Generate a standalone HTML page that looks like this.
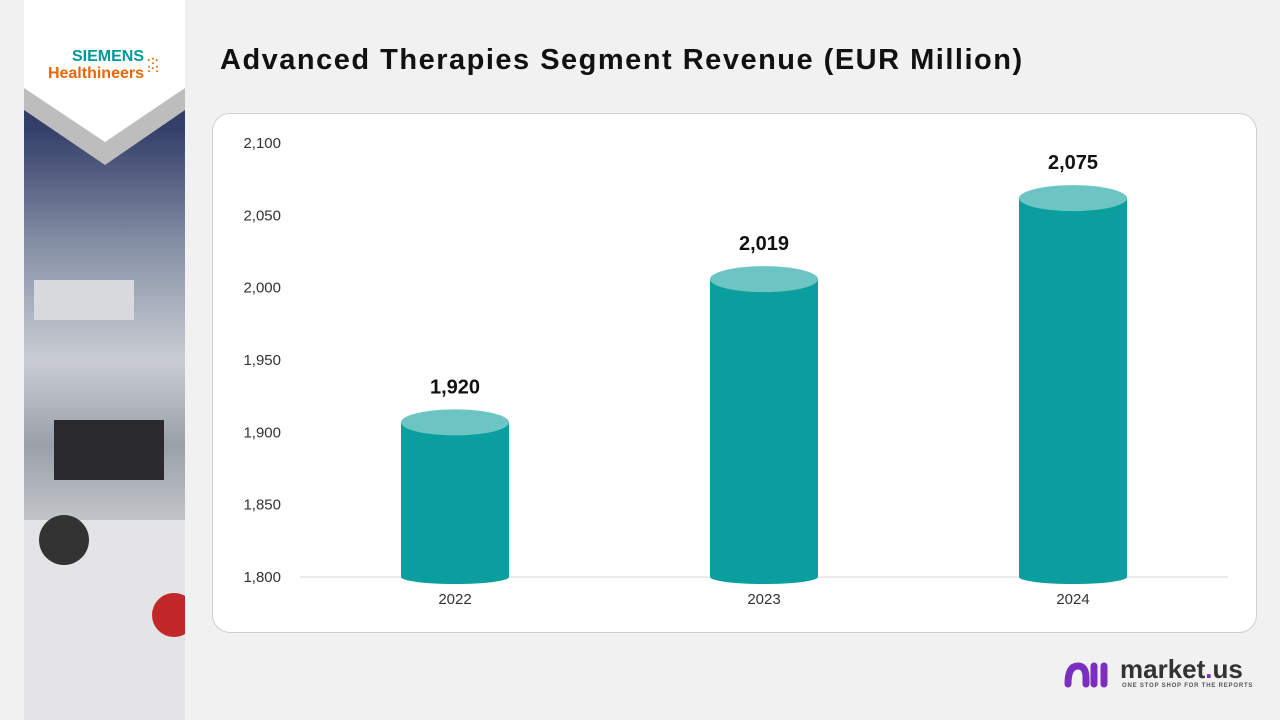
<!DOCTYPE html>
<html><head><meta charset="utf-8"><style>
body{margin:0;width:1280px;height:720px;background:#f1f1f1;font-family:"Liberation Sans",sans-serif;position:relative;overflow:hidden}
#side{position:absolute;left:24px;top:0;width:161px;height:720px;background:linear-gradient(180deg,#1d2a55 0%,#35406a 18%,#8a94a8 35%,#c9cdd3 50%,#9aa0a8 62%,#d8dadd 78%,#b8bcc2 100%)}
#title{position:absolute;left:220px;top:44px;font-size:29px;font-weight:bold;color:#111;letter-spacing:1.5px}
#card{position:absolute;left:212px;top:113px;width:1043px;height:518px;background:#fff;border:1px solid #cfcfcf;border-radius:18px}
</style></head><body>
<div id="side">
<svg width="161" height="720" style="position:absolute;left:0;top:0">
<rect x="0" y="520" width="161" height="200" fill="#e4e4e6"/>
<rect x="10" y="280" width="100" height="40" fill="#d7d9dc"/>
<circle cx="40" cy="540" r="25" fill="#333"/>
<rect x="30" y="420" width="110" height="60" fill="#2a2a2e"/>
<circle cx="150" cy="615" r="22" fill="#c0282a"/>
<polygon points="0,0 161,0 161,110 81,165 0,110" fill="#bdbdbd"/>
<polygon points="0,0 161,0 161,88 81,142 0,88" fill="#fff"/>
</svg>
<div style="position:absolute;left:6px;top:49px;text-align:right;width:114px">
<div style="color:#009999;font-weight:bold;font-size:16px;line-height:16px">SIEMENS</div>
<div style="color:#ec6602;font-weight:bold;font-size:16px;line-height:17px">Healthineers</div>
</div>
<div style="position:absolute;left:123px;top:56px;color:#ec6602;font-size:12px;line-height:8px;font-weight:bold">·:·<br>:·:</div>
</div>
<div id="title">Advanced Therapies Segment Revenue (EUR Million)</div>
<div id="card"></div>
<svg id="chart" width="1280" height="720" style="position:absolute;left:0;top:0"></svg>
<div style="position:absolute;left:1064px;top:656px;width:200px;height:40px">
<svg width="48" height="34" style="position:absolute;left:0;top:2px"><path d="M4 26 Q4 8 14 8 Q22 8 22 20 L22 26 M30 8 L30 26 M40 8 L40 26" stroke="#7b2fbf" stroke-width="7" fill="none" stroke-linecap="round"/></svg>
<div style="position:absolute;left:56px;top:-2px;font-size:26px;font-weight:bold;color:#333">market<span style="color:#7b2fbf">.</span>us</div>
<div style="position:absolute;left:58px;top:27px;font-size:6px;font-weight:bold;color:#555;letter-spacing:0.8px">ONE STOP SHOP FOR THE REPORTS</div>
</div>
<script>
const categories=["2022","2023","2024"];
const values=[1920,2019,2075];
const valueLabels=["1,920","2,019","2,075"];
const ticks=[1800,1850,1900,1950,2000,2050,2100];
const tickLabels=["1,800","1,850","1,900","1,950","2,000","2,050","2,100"];
const svg=document.getElementById('chart');const NS='http://www.w3.org/2000/svg';
const y0=577,y1=143,vmin=1800,vmax=2100;
const y=v=>y0-(v-vmin)/(vmax-vmin)*(y0-y1);
const x=i=>455+i*309;
function mk(t,a){const e=document.createElementNS(NS,t);for(const k in a)e.setAttribute(k,a[k]);svg.appendChild(e);return e;}
let ax=mk('line',{x1:300,x2:1228,y1:y0,y2:y0,stroke:'#d9d9d9','stroke-width':1});


ticks.forEach((t,i)=>{const e=mk('text',{x:281,y:y(t)+5,'text-anchor':'end','font-size':15,fill:'#333','font-family':'Liberation Sans'});e.textContent=tickLabels[i];

});
categories.forEach((c,i)=>{const cx=x(i),w=108,top=y(values[i])+19;
const b=mk('ellipse',{cx:cx,cy:y0,rx:w/2,ry:7,fill:'#0a9e9e'});


const r=mk('rect',{x:cx-w/2,y:top,width:w,height:y0-top,fill:'#0a9e9e'});


const tp=mk('ellipse',{cx:cx,cy:top,rx:w/2,ry:13,fill:'#6cc5c3'});


const l=mk('text',{x:cx,y:y(values[i])-10,'text-anchor':'middle','font-size':20,'font-weight':'bold',fill:'#111','font-family':'Liberation Sans'});l.textContent=valueLabels[i];


const cl=mk('text',{x:cx,y:604,'text-anchor':'middle','font-size':15,fill:'#333','font-family':'Liberation Sans'});cl.textContent=c;

});
</script>
</body></html>
